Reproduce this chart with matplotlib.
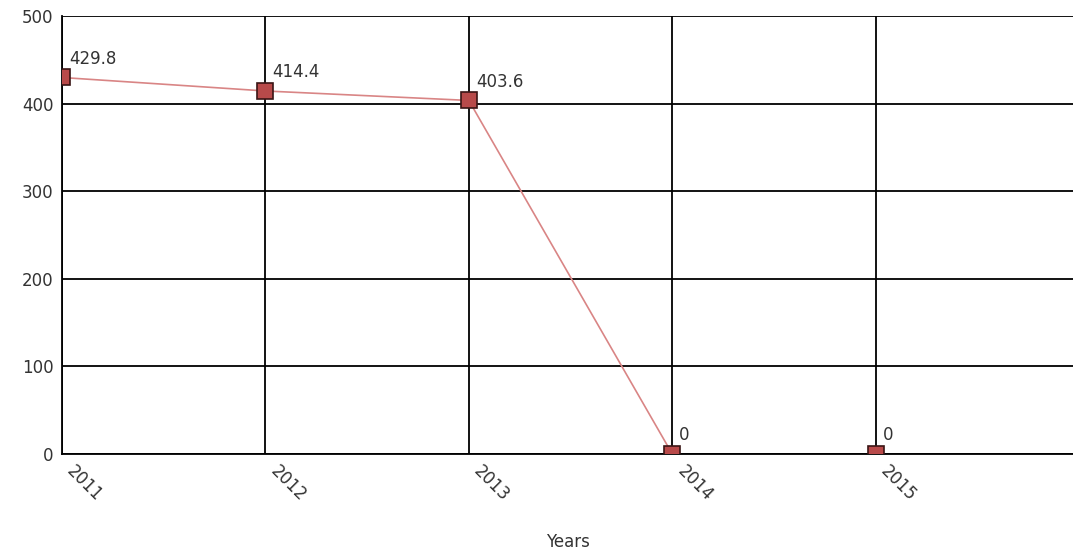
import matplotlib.pyplot as plt
import matplotlib.transforms as mtransforms
from matplotlib.patches import Rectangle

years = [2011, 2012, 2013, 2014, 2015]
values = [429.8, 414.4, 403.6, 0, 0]
labels = ["429.8", "414.4", "403.6", "0", "0"]
line_years = years[:4]
line_values = values[:4]

fig = plt.figure(figsize=(10.73, 5.58), dpi=100)
ax = fig.add_axes([62 / 1073, 1 - 454 / 558, 1 - 62 / 1073, (454 - 16) / 558])

ax.plot(line_years, line_values, color="#d98585", linewidth=1.2, zorder=3)

# square markers as patches, so they get cut at the plot edges like the original
half = 0.08
for year, value in zip(years, values):
    trans = fig.dpi_scale_trans + mtransforms.ScaledTranslation(year, value, ax.transData)
    ax.add_patch(Rectangle((-half, -half), 2 * half, 2 * half, transform=trans,
                           facecolor="#b84a4a", edgecolor="#3a1515",
                           linewidth=1.2, zorder=4))

for year, value, text in zip(years, values, labels):
    ax.annotate(text, (year, value), xytext=(5, 7), textcoords="offset points",
                ha="left", va="bottom", fontsize=12, color="#333333")

ax.set_xlim(2011, 2015.97)
ax.set_ylim(0, 500)
ax.set_xticks(years)
ax.set_xticklabels([])
# rotated year labels, nudged right like the original
shift = mtransforms.ScaledTranslation(14 / 100, -8 / 100, fig.dpi_scale_trans)
for year in years:
    ax.text(year, 0, str(year), transform=ax.get_xaxis_transform() + shift,
            rotation=-45, rotation_mode="anchor", ha="left", va="top",
            fontsize=12, color="#333333", clip_on=False)
ax.set_yticks(range(0, 501, 100))
ax.tick_params(axis="y", labelsize=12, labelcolor="#333333", length=0, pad=6)
ax.tick_params(axis="x", length=0)
ax.grid(color="black", linewidth=1.3)
ax.set_axisbelow(True)
for side in ["top", "right"]:
    ax.spines[side].set_visible(False)
for side in ["left", "bottom"]:
    ax.spines[side].set_linewidth(1.3)
ax.text(0.5, -0.2, "Years", transform=ax.transAxes, ha="center", va="center",
        fontsize=12, color="#333333")

fig.savefig("out.png", dpi=100)
